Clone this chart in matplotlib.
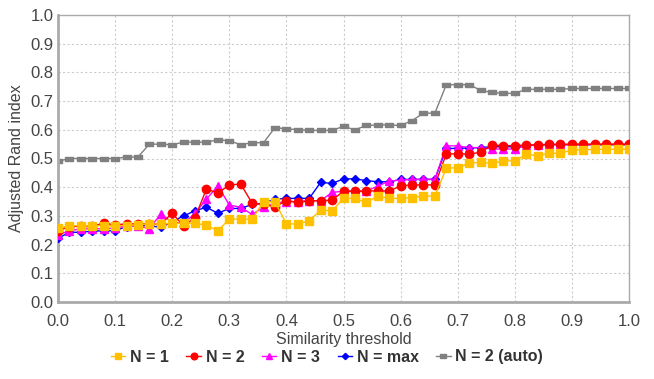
import numpy as np
import matplotlib
matplotlib.use("Agg")
from matplotlib import pyplot as plt

plt.rcParams['font.family'] = ['Liberation Sans', 'DejaVu Sans']

x = np.round(np.arange(0, 1.0001, 0.02), 2)

n1 = [0.257, 0.266, 0.266, 0.266, 0.266, 0.266, 0.266, 0.269, 0.272, 0.272, 0.274,
      0.274, 0.274, 0.268, 0.248, 0.289, 0.289, 0.289, 0.349, 0.349, 0.272,
      0.272, 0.283, 0.320, 0.318, 0.361, 0.361, 0.347, 0.369, 0.361, 0.361,
      0.364, 0.369, 0.369, 0.466, 0.468, 0.483, 0.487, 0.483, 0.492, 0.492,
      0.514, 0.510, 0.518, 0.518, 0.530, 0.530, 0.532, 0.532, 0.532, 0.532]
n2 = [0.249, 0.262, 0.265, 0.265, 0.274, 0.269, 0.272, 0.272, 0.272, 0.272, 0.309,
      0.265, 0.294, 0.394, 0.379, 0.408, 0.411, 0.344, 0.340, 0.332, 0.353,
      0.347, 0.353, 0.353, 0.355, 0.386, 0.386, 0.386, 0.388, 0.386, 0.405,
      0.408, 0.408, 0.408, 0.516, 0.516, 0.516, 0.521, 0.547, 0.545, 0.545,
      0.547, 0.547, 0.549, 0.549, 0.550, 0.550, 0.550, 0.550, 0.550, 0.550]
n3 = [0.234, 0.248, 0.255, 0.255, 0.255, 0.258, 0.265, 0.265, 0.256, 0.306, 0.278,
      0.274, 0.309, 0.358, 0.405, 0.338, 0.330, 0.305, 0.330, 0.344, 0.350,
      0.350, 0.353, 0.353, 0.382, 0.386, 0.386, 0.386, 0.404, 0.421, 0.425,
      0.427, 0.428, 0.428, 0.544, 0.544, 0.538, 0.538, 0.533, 0.533, 0.533,
      0.545, 0.547, 0.549, 0.549, 0.549, 0.549, 0.549, 0.549, 0.549, 0.549]
nmax = [0.222, 0.243, 0.243, 0.247, 0.248, 0.248, 0.263, 0.266, 0.266, 0.260, 0.280,
        0.300, 0.318, 0.330, 0.309, 0.326, 0.326, 0.340, 0.344, 0.358, 0.361,
        0.361, 0.361, 0.417, 0.413, 0.429, 0.429, 0.423, 0.419, 0.419, 0.427,
        0.427, 0.427, 0.427, 0.535, 0.535, 0.537, 0.538, 0.541, 0.541, 0.541,
        0.545, 0.548, 0.548, 0.548, 0.548, 0.548, 0.548, 0.548, 0.548, 0.548]
n2_auto = [0.490, 0.500, 0.500, 0.500, 0.500, 0.500, 0.505, 0.505, 0.550, 0.550, 0.548,
           0.557, 0.557, 0.557, 0.565, 0.562, 0.548, 0.555, 0.555, 0.608, 0.603,
           0.601, 0.598, 0.598, 0.598, 0.612, 0.600, 0.615, 0.617, 0.617, 0.615,
           0.632, 0.658, 0.658, 0.757, 0.757, 0.757, 0.738, 0.730, 0.727, 0.727,
           0.741, 0.741, 0.741, 0.741, 0.744, 0.744, 0.744, 0.744, 0.744, 0.744]

labels = ['N = 1', 'N = 2', 'N = 3', 'N = max', 'N = 2 (auto)']

rect = [(-1, -0.55), (1, -0.55), (1, 0.55), (-1, 0.55), (-1, -0.55)]

fig = plt.figure(figsize=(6.54, 3.79), dpi=100)
ax = fig.add_axes([58/654, 1 - 302/379, 571/654, 287/379])

ax.plot(x, n2_auto, color='#808080', lw=1, marker=rect, ms=6, label=labels[4], zorder=2)
ax.plot(x, nmax, color='#0000ff', lw=1, marker='D', ms=4, label=labels[3], zorder=3)
ax.plot(x, n3, color='#ff00ff', lw=1, marker='^', ms=6, label=labels[2], zorder=4)
ax.plot(x, n2, color='#ff0000', lw=1, marker='o', ms=6, label=labels[1], zorder=5)
ax.plot(x, n1, color='#ffc000', lw=1, marker='s', ms=6, label=labels[0], zorder=6)

ax.set_xlim(0, 1)
ax.set_ylim(0, 1)
ax.set_xticks(np.arange(0, 1.01, 0.1))
ax.set_yticks(np.arange(0, 1.01, 0.1))
ax.xaxis.set_major_formatter(matplotlib.ticker.FormatStrFormatter('%.1f'))
ax.yaxis.set_major_formatter(matplotlib.ticker.FormatStrFormatter('%.1f'))
ax.tick_params(length=0, labelsize=12, colors='#444444')
ax.tick_params(axis='x', pad=9)
ax.tick_params(axis='y', pad=3)
ax.grid(True, color='#cccccc', linestyle=(0, (2, 2)), lw=0.8)
ax.set_axisbelow(True)
for s in ax.spines.values():
    s.set_color('#aaaaaa')
    s.set_linewidth(1)
ax.spines['left'].set_linewidth(2)
ax.spines['bottom'].set_linewidth(2)

ax.set_xlabel('Similarity threshold', fontsize=11.5, color='#444444', labelpad=2)
ax.set_ylabel('Adjusted Rand index', fontsize=11.5, color='#444444', labelpad=5)

h, l = ax.get_legend_handles_labels()
order = [4, 3, 2, 1, 0]
leg = fig.legend([h[i] for i in order], [l[i] for i in order], loc='center',
                 bbox_to_anchor=(0.5, 1 - 357/379), ncol=5, frameon=False,
                 prop={'weight': 'bold', 'size': 11.5}, handlelength=0.9,
                 handletextpad=0.3, columnspacing=1.1, markerscale=0.8)
for t in leg.get_texts():
    t.set_color('#333333')

fig.savefig('out.png', dpi=100)
